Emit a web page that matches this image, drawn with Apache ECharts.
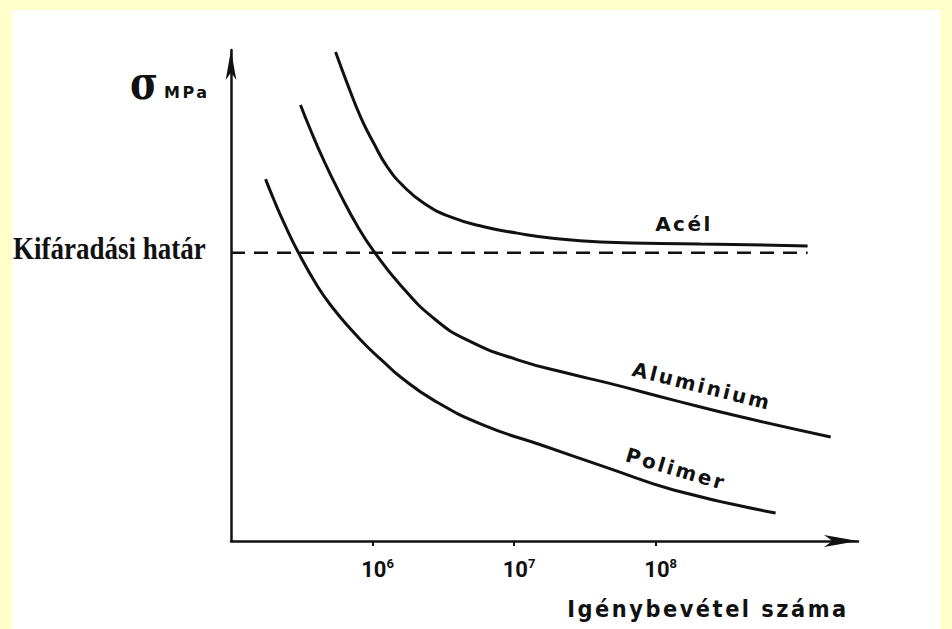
<!DOCTYPE html>
<html><head><meta charset="utf-8">
<script src="https://cdn.jsdelivr.net/npm/echarts@6/dist/echarts.min.js"></script>
<style>
html,body{margin:0;padding:0;background:#FFFFCC;width:952px;height:629px;overflow:hidden}
#chart{position:absolute;left:12px;top:10px;width:928px;height:619px;background:#fff}
#chart text[style*="DejaVu Sans"]{letter-spacing:2.5px}
#chart text[style*="16px DejaVu Sans"]{letter-spacing:5px}
</style></head><body><div id="chart"></div>
<script>
// x values are log10(number of load cycles); y is stress in arbitrary units (0-100)
const seriesNames = ['Acél', 'Aluminium', 'Polimer'];
const acelX = [5.739, 5.821, 5.915, 6.009, 6.104, 6.221, 6.363, 6.551, 6.786, 7.023, 7.258, 7.611, 8.318, 9.074];
const acelY = [99.6, 93.2, 86.4, 81.0, 76.2, 72.2, 68.8, 66.0, 64.0, 62.7, 61.7, 60.9, 60.5, 60.1];
const aluX = [5.491, 5.562, 5.654, 5.774, 5.894, 6.007, 6.198, 6.431, 6.671, 7.025, 7.399, 7.661, 8.127, 8.601, 9.237];
const aluY = [88.8, 83.7, 77.6, 70.5, 64.1, 59.1, 52.1, 45.4, 40.9, 36.9, 34.0, 32.2, 28.7, 25.3, 21.2];
const polX = [5.244, 5.300, 5.371, 5.477, 5.611, 5.724, 5.845, 5.965, 6.078, 6.198, 6.431, 6.784, 7.187, 7.661, 8.127, 8.848];
const polY = [73.7, 69.7, 65.0, 58.7, 51.9, 47.3, 43.2, 39.5, 36.5, 33.4, 28.7, 23.6, 19.6, 14.9, 10.4, 5.7];
const fatigueLimitLabel = 'Kifáradási határ';
const fatigueLimit = 58.7;
const fatigueLimitX = [5.0, 9.074];
const tickExponents = [6, 7, 8];
const yAxisSymbol = 'σ';
const yAxisName = 'MPa';
const xAxisName = 'Igénybevétel száma';

const zip = (xs, ys) => xs.map((x, i) => [x, ys[i]]);
const ink = '#111';

const chart = echarts.init(document.getElementById('chart'), null, {renderer: 'svg'});
const curve = (name, xs, ys) => ({
  type: 'line', name, data: zip(xs, ys), smooth: 0.5,
  showSymbol: false, lineStyle: {color: ink, width: 3}, silent: true
});
chart.setOption({
  animation: false,
  grid: {left: 219, top: 40, width: 627, height: 491, containLabel: false},
  xAxis: {
    type: 'value', min: 5, max: 9.43,
    axisLine: {show: true, onZero: false, symbol: ['none', 'arrow'], symbolSize: [9, 34], lineStyle: {color: ink, width: 2.5}},
    axisTick: {show: true, customValues: tickExponents, length: 5, lineStyle: {color: ink, width: 2}},
    axisLabel: {
      customValues: tickExponents, margin: 16, padding: [0, 0, 0, 10],
      fontSize: 22, fontWeight: 'bold', fontFamily: 'Roboto', color: ink,
      formatter: v => '{b|10}{s|' + v + '}',
      rich: {
        b: {fontFamily: 'Roboto', fontWeight: 'bold', fontSize: 22, color: ink, lineHeight: 24},
        s: {fontFamily: 'Roboto', fontWeight: 'bold', fontSize: 13, color: ink, verticalAlign: 'top', lineHeight: 14}
      }
    },
    splitLine: {show: false}
  },
  yAxis: {
    type: 'value', min: 0, max: 100,
    axisLine: {show: true, onZero: false, symbol: ['none', 'arrow'], symbolSize: [8, 30], lineStyle: {color: ink, width: 2.5}},
    axisTick: {show: false}, axisLabel: {show: false}, splitLine: {show: false}
  },
  series: [
    curve(seriesNames[0], acelX, acelY),
    curve(seriesNames[1], aluX, aluY),
    curve(seriesNames[2], polX, polY),
    {type: 'line', name: fatigueLimitLabel, data: fatigueLimitX.map(x => [x, fatigueLimit]),
     showSymbol: false, silent: true, lineStyle: {color: ink, width: 2.5, type: [14, 9]}}
  ],
  graphic: [
    {type: 'text', x: 132, y: 72, scaleY: 1.25, style: {text: yAxisSymbol, font: 'bold 38px DejaVu Serif', fill: ink, textAlign: 'center', textVerticalAlign: 'middle'}},
    {type: 'text', x: 152, y: 82, style: {text: yAxisName, font: 'bold 16px DejaVu Sans', fill: ink, textAlign: 'left', textVerticalAlign: 'middle'}},
    {type: 'text', x: 1, y: 238, scaleY: 1.15, style: {text: fatigueLimitLabel, font: 'bold 27px Liberation Serif', fill: ink, textAlign: 'left', textVerticalAlign: 'middle'}},
    {type: 'text', x: 672, y: 214, style: {text: seriesNames[0], font: 'bold 20px DejaVu Sans', fill: ink, textAlign: 'center', textVerticalAlign: 'middle'}},
    {type: 'text', x: 690, y: 376, rotation: -0.244, style: {text: seriesNames[1], font: 'bold 20px DejaVu Sans', fill: ink, textAlign: 'center', textVerticalAlign: 'middle'}},
    {type: 'text', x: 664, y: 459, rotation: -0.286, style: {text: seriesNames[2], font: 'bold 20px DejaVu Sans', fill: ink, textAlign: 'center', textVerticalAlign: 'middle'}},
    {type: 'text', x: 696, y: 599, scaleY: 1.1, style: {text: xAxisName, font: 'bold 21px DejaVu Sans', fill: ink, textAlign: 'center', textVerticalAlign: 'middle'}}
  ]
});
</script></body></html>
